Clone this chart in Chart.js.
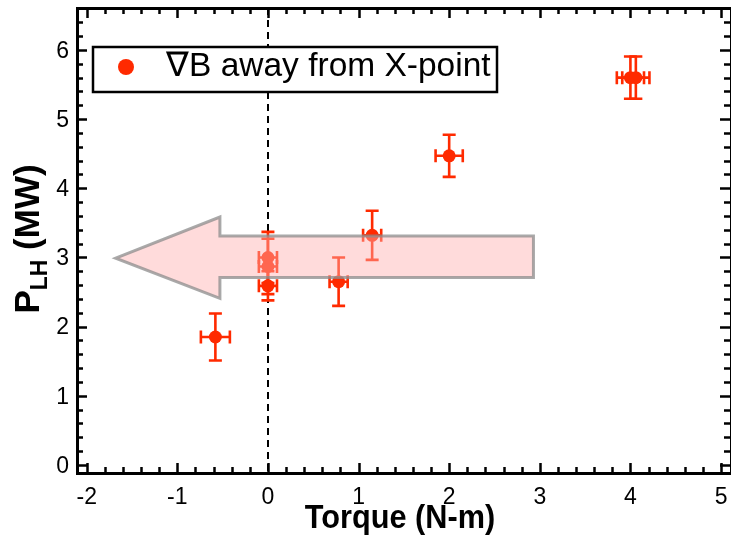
<!DOCTYPE html>
<html>
<head>
<meta charset="utf-8">
<script src="https://cdn.jsdelivr.net/npm/chart.js@4/dist/chart.umd.min.js"></script>
<style>
  html, body { margin: 0; padding: 0; background: #ffffff; }
  #wrap { width: 731px; height: 542px; }
</style>
</head>
<body>
<div id="wrap"><canvas id="c" width="731" height="542"></canvas></div>
<script>
// L-H threshold power versus injected torque
const seriesLabel = '\u2207B away from X-point';
const torque    = [-0.58, 0.00, 0.00, 0.00, 0.78, 1.15, 2.00, 4.00, 4.06];
const powerLH   = [ 1.85, 2.59, 2.87, 3.00, 2.65, 3.32, 4.47, 5.60, 5.60];
const torqueErr = [ 0.16, 0.10, 0.10, 0.10, 0.10, 0.10, 0.15, 0.15, 0.15];
const powerErr  = [ 0.34, 0.21, 0.40, 0.37, 0.35, 0.355, 0.305, 0.305, 0.305];

const xTicks = [-2, -1, 0, 1, 2, 3, 4, 5];
const yTicks = [0, 1, 2, 3, 4, 5, 6];

// arrow outline (data units): tip, head, shaft
const arrowX = [-1.68, -0.53, -0.53, 2.93, 2.93, -0.53, -0.53];
const arrowY = [ 2.99,  3.585, 3.31, 3.31, 2.71,  2.71,  2.41];

const RED = '#ff2a00';
const FONT = '"Liberation Sans", Arial, Helvetica, sans-serif';

const points = torque.map((t, i) => ({ x: t, y: powerLH[i] }));

const decor = {
  id: 'decor',
  beforeDatasetsDraw(chart) {
    const { ctx, chartArea: a, scales: { x, y } } = chart;
    ctx.save();
    // dashed zero-torque line
    ctx.strokeStyle = '#000';
    ctx.lineWidth = 2;
    ctx.setLineDash([7, 5]);
    const x0 = Math.round(x.getPixelForValue(0));
    ctx.beginPath();
    ctx.moveTo(x0, a.top);
    ctx.lineTo(x0, a.bottom);
    ctx.stroke();
    ctx.setLineDash([]);
    // error bars
    ctx.strokeStyle = RED;
    ctx.lineWidth = 2.6;
    const cap = 6.5;
    torque.forEach((t, i) => {
      const px = x.getPixelForValue(t), py = y.getPixelForValue(powerLH[i]);
      const x1 = x.getPixelForValue(t - torqueErr[i]), x2 = x.getPixelForValue(t + torqueErr[i]);
      const y1 = y.getPixelForValue(powerLH[i] - powerErr[i]), y2 = y.getPixelForValue(powerLH[i] + powerErr[i]);
      ctx.beginPath();
      ctx.moveTo(px, y1); ctx.lineTo(px, y2);
      ctx.moveTo(px - cap, y1); ctx.lineTo(px + cap, y1);
      ctx.moveTo(px - cap, y2); ctx.lineTo(px + cap, y2);
      ctx.moveTo(x1, py); ctx.lineTo(x2, py);
      ctx.moveTo(x1, py - cap); ctx.lineTo(x1, py + cap);
      ctx.moveTo(x2, py - cap); ctx.lineTo(x2, py + cap);
      ctx.stroke();
    });
    ctx.restore();
  },
  afterDatasetsDraw(chart) {
    const { ctx, chartArea: a, scales: { x, y } } = chart;
    ctx.save();
    // translucent arrow over the data
    ctx.beginPath();
    arrowX.forEach((v, i) => {
      const px = x.getPixelForValue(v), py = y.getPixelForValue(arrowY[i]);
      if (i === 0) ctx.moveTo(px, py); else ctx.lineTo(px, py);
    });
    ctx.closePath();
    ctx.fillStyle = 'rgba(255, 175, 175, 0.45)';
    ctx.fill();
    ctx.strokeStyle = 'rgba(140, 140, 140, 0.75)';
    ctx.lineWidth = 3;
    ctx.lineJoin = 'miter';
    ctx.stroke();

    // frame
    ctx.strokeStyle = '#000';
    ctx.lineWidth = 3;
    ctx.strokeRect(a.left + 0.5, a.top + 0.5, a.right - a.left, a.bottom - a.top);

    // inward ticks, minor every 0.2
    ctx.lineWidth = 2.5;
    ctx.beginPath();
    for (let k = Math.ceil(x.min * 5); k <= Math.floor(x.max * 5); k++) {
      const v = k / 5, px = Math.round(x.getPixelForValue(v)) + 0.5;
      const len = (k % 5 === 0) ? 10 : 6;
      ctx.moveTo(px, a.bottom); ctx.lineTo(px, a.bottom - len);
      ctx.moveTo(px, a.top); ctx.lineTo(px, a.top + len);
    }
    for (let k = Math.ceil(y.min * 5); k <= Math.floor(y.max * 5); k++) {
      const v = k / 5, py = Math.round(y.getPixelForValue(v)) + 0.5;
      const len = (k % 5 === 0) ? 10 : 6;
      ctx.moveTo(a.left, py); ctx.lineTo(a.left + len, py);
      ctx.moveTo(a.right - 1, py); ctx.lineTo(a.right - 1 - len, py);
    }
    ctx.stroke();

    // tick labels
    ctx.fillStyle = '#000';
    ctx.font = '23px ' + FONT;
    ctx.textAlign = 'center';
    ctx.textBaseline = 'middle';
    xTicks.forEach(v => ctx.fillText(String(v), x.getPixelForValue(v), 498));
    ctx.textAlign = 'right';
    yTicks.forEach(v => ctx.fillText(String(v), 69, y.getPixelForValue(v) + 1.5));

    // x title
    ctx.save();
    ctx.font = 'bold 33px ' + FONT;
    ctx.textAlign = 'center';
    ctx.textBaseline = 'middle';
    ctx.translate(400, 519);
    ctx.scale(0.93, 1);
    ctx.fillText('Torque (N-m)', 0, 0);
    ctx.restore();

    // y title with subscript
    ctx.save();
    ctx.translate(27, 239);
    ctx.rotate(-Math.PI / 2);
    ctx.textBaseline = 'alphabetic';
    ctx.textAlign = 'left';
    const big = 'bold 35px ' + FONT, small = 'bold 23px ' + FONT;
    ctx.font = big; const wP = ctx.measureText('P').width;
    ctx.font = small; const wS = ctx.measureText('LH').width;
    ctx.font = big; const wR = ctx.measureText(' (MW)').width;
    let cx = -(wP + wS + wR) / 2;
    const base = 12;
    ctx.font = big; ctx.fillText('P', cx, base); cx += wP;
    ctx.font = small; ctx.fillText('LH', cx, base + 8); cx += wS;
    ctx.font = big; ctx.fillText(' (MW)', cx, base);
    ctx.restore();

    // legend box
    ctx.fillStyle = '#fff';
    ctx.fillRect(93, 47, 404, 45);
    ctx.strokeStyle = '#000';
    ctx.lineWidth = 2.5;
    ctx.strokeRect(93, 47, 404, 45);
    ctx.fillStyle = RED;
    ctx.beginPath();
    ctx.arc(126, 67, 8, 0, Math.PI * 2);
    ctx.fill();
    ctx.fillStyle = '#000';
    ctx.font = '33.5px ' + FONT;
    ctx.textAlign = 'left';
    ctx.textBaseline = 'middle';
    ctx.fillText(seriesLabel, 166, 67);
    ctx.restore();
  }
};

new Chart(document.getElementById('c'), {
  type: 'scatter',
  data: {
    datasets: [{
      label: seriesLabel,
      data: points,
      pointRadius: 6.5,
      pointHoverRadius: 6.5,
      pointBackgroundColor: RED,
      pointBorderWidth: 0,
      showLine: false
    }]
  },
  options: {
    responsive: false,
    animation: false,
    events: [],
    layout: { autoPadding: false, padding: { left: 77, right: 0, top: 8, bottom: 69 } },
    plugins: { legend: { display: false }, tooltip: { enabled: false } },
    scales: {
      x: { type: 'linear', min: -2.107, max: 5.11, display: false },
      y: { type: 'linear', min: -0.116, max: 6.607, display: false }
    }
  },
  plugins: [decor]
});
</script>
</body>
</html>
